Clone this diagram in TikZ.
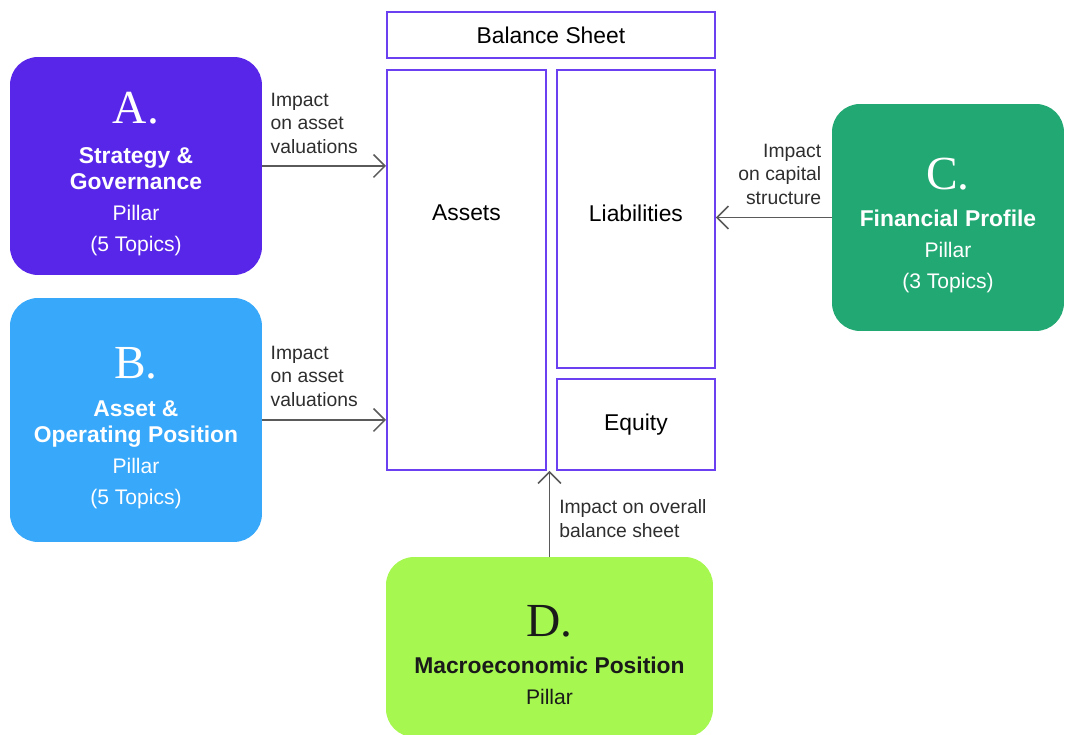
\documentclass[tikz,border=0pt]{standalone}
\usepackage{fontspec}
\setmainfont{Liberation Sans}
\newfontfamily\letterfont{Liberation Serif}
\usetikzlibrary{arrows.meta}

\definecolor{pillarA}{HTML}{5826E8}
\definecolor{pillarB}{HTML}{38A8FA}
\definecolor{pillarC}{HTML}{22A873}
\definecolor{pillarD}{HTML}{A6F750}
\definecolor{sheetline}{HTML}{6A40F0}
\definecolor{arrowgray}{HTML}{5A5A5A}
\definecolor{notegray}{HTML}{2E2E2E}
\definecolor{darktext}{HTML}{1A1A1A}

% big serif letter; the strut leaves some air above it
\newcommand{\pillarletter}[1]{{\letterfont\fontsize{27}{27}\selectfont\rule{0pt}{27pt}#1}}
\newcommand{\pillarname}[1]{{\fontsize{13}{14.7}\selectfont\bfseries #1}}

\tikzset{
  pillar/.style={rounded corners=0.56cm, anchor=north west, align=center,
    text=white, inner sep=0pt, outer sep=0pt, font=\fontsize{12}{14.7}\selectfont},
  sheetbox/.style={draw=sheetline, line width=1.1pt, anchor=north west,
    inner sep=0pt, font=\fontsize{13}{15}\selectfont},
  sheetlabel/.style={font=\fontsize{13}{15}\selectfont},
  impact/.style={draw=arrowgray, line width=0.9pt,
    -{Straight Barb[length=6.5pt,width=13pt]}},
  note/.style={font=\fontsize{11}{13.3}\selectfont, text=notegray, inner sep=0pt},
}

\begin{document}
\begin{tikzpicture}[x=0.02cm, y=-0.02cm]
    \useasboundingbox (0,0) rectangle (1065,734);
    \clip (0,0) rectangle (1065,734);

    % --- Balance sheet ---
    \node[sheetbox, minimum width=6.56cm, minimum height=0.92cm] (sheet) at (386,11) {Balance Sheet};
    \node[sheetbox, minimum width=3.18cm, minimum height=8cm,
      label={[sheetlabel, yshift=1.14cm]center:Assets}] (assets) at (386,69) {};
    \node[sheetbox, minimum width=3.16cm, minimum height=5.96cm,
      label={[sheetlabel, yshift=0.12cm]center:Liabilities}] (liab) at (556,69) {};
    \node[sheetbox, minimum width=3.16cm, minimum height=1.82cm] (equity) at (556,378) {Equity};

    % --- Pillars ---
    \node[pillar, fill=pillarA, minimum width=5.04cm, minimum height=4.36cm] (pa) at (10,57)
      {\pillarletter{A.}\\[8pt] \pillarname{Strategy \&}\\ \pillarname{Governance}\\[3pt] Pillar\\[3pt] (5 Topics)};
    \node[pillar, fill=pillarB, minimum width=5.04cm, minimum height=4.88cm] (pb) at (10,298)
      {\pillarletter{B.}\\[7pt] \pillarname{Asset \&}\\ \pillarname{Operating Position}\\[3pt] Pillar\\[3pt] (5 Topics)};
    \node[pillar, fill=pillarC, minimum width=4.64cm, minimum height=4.54cm] (pc) at (832,104)
      {\pillarletter{C.}\\[6pt] \pillarname{Financial Profile}\\[3pt] Pillar\\[3pt] (3 Topics)};
    \node[pillar, fill=pillarD, text=darktext, minimum width=6.54cm, minimum height=3.6cm] (pd) at (386,557)
      {\pillarletter{D.}\\[6pt] \pillarname{Macroeconomic Position}\\[3pt] Pillar};

    % --- Impacts ---
    \draw[impact] (pa.east) -- (pa.east -| assets.west)
      node[note, pos=0, anchor=south west, align=left, xshift=0.16cm, yshift=0.24cm] {Impact\\on asset\\valuations};
    \draw[impact] (pb.east) -- (pb.east -| assets.west)
      node[note, pos=0, anchor=south west, align=left, xshift=0.16cm, yshift=0.26cm] {Impact\\on asset\\valuations};
    \draw[impact] (pc.west) -- (pc.west -| liab.east)
      node[note, pos=0, anchor=south east, align=right, xshift=-0.2cm, yshift=0.25cm] {Impact\\on capital\\structure};
    \draw[impact] (pd.north) -- (pd.north |- assets.south)
      node[note, pos=0, anchor=south west, align=left, xshift=0.18cm, yshift=0.38cm] {Impact on overall\\balance sheet};
\end{tikzpicture}
\end{document}
